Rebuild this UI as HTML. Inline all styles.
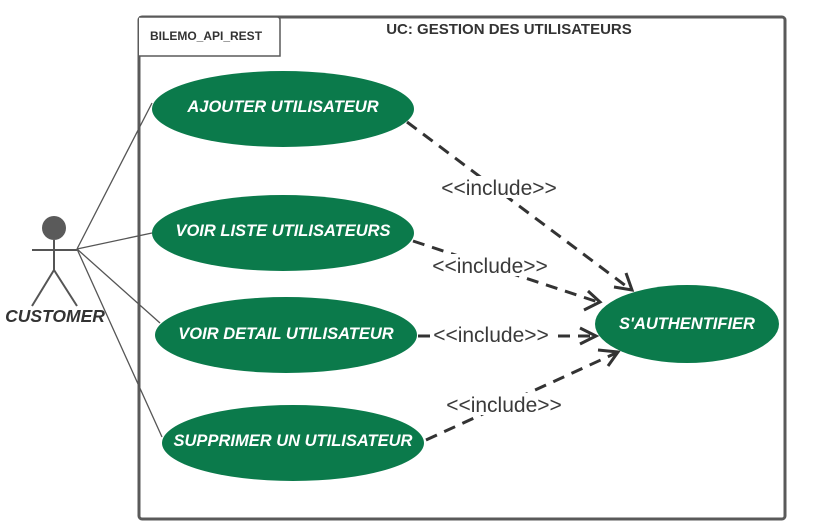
<!DOCTYPE html>
<html><head><style>body{margin:0;background:#fff}svg{display:block}</style></head><body>
<svg width="831" height="524" viewBox="0 0 831 524" xmlns="http://www.w3.org/2000/svg" font-family="Liberation Sans, sans-serif">
<rect x="139" y="17" width="646" height="502" rx="3" fill="#fff" stroke="#5a5a5a" stroke-width="3"/>
<path d="M139 56 H280 V20 Q280 17 277 17 H139" fill="#fff" stroke="#5a5a5a" stroke-width="1.5"/>
<text x="150" y="40" font-size="12" font-weight="bold" fill="#333">BILEMO_API_REST</text>
<text x="509" y="34" font-size="15" font-weight="bold" fill="#333" text-anchor="middle">UC:  GESTION DES UTILISATEURS</text>
<g stroke="#555" stroke-width="1.3" fill="none">
<line x1="77" y1="249" x2="152" y2="103"/><line x1="77" y1="249" x2="152" y2="233"/>
<line x1="77" y1="249" x2="160" y2="323"/><line x1="77" y1="249" x2="162" y2="437"/>
</g>
<g stroke="#555" stroke-width="2" fill="none">
<line x1="54" y1="240" x2="54" y2="270"/><line x1="32" y1="250" x2="77" y2="250"/>
<line x1="54" y1="270" x2="32" y2="306"/><line x1="54" y1="270" x2="77" y2="306"/>
</g>
<circle cx="54" cy="228" r="12" fill="#5a5a5a"/>
<text x="55" y="322" font-size="17.5" font-weight="bold" font-style="italic" fill="#333" text-anchor="middle">CUSTOMER</text>
<g stroke="#333" stroke-width="3" stroke-dasharray="12,8" fill="none">
<line x1="407" y1="122" x2="630" y2="289"/>
<line x1="413" y1="241" x2="598" y2="302"/>
<line x1="418" y1="336" x2="594" y2="336"/>
<line x1="426" y1="440" x2="616" y2="353"/>
</g>
<g stroke="#333" stroke-width="3" fill="none">
<polyline points="614,287 632,290 626,273"/>
<polyline points="584,310 600,302 588,291"/>
<polyline points="580,328 596,336 580,344"/>
<polyline points="598,350 618,352 608,366"/>
</g>
<g font-size="21" fill="#3a3a3a" text-anchor="middle">
<rect x="438" y="176" width="122" height="22" fill="#fff"/><text x="499" y="195">&lt;&lt;include&gt;&gt;</text>
<rect x="429" y="254" width="122" height="22" fill="#fff"/><text x="490" y="273">&lt;&lt;include&gt;&gt;</text>
<rect x="430" y="323" width="122" height="22" fill="#fff"/><text x="491" y="342">&lt;&lt;include&gt;&gt;</text>
<rect x="443" y="393" width="122" height="22" fill="#fff"/><text x="504" y="412">&lt;&lt;include&gt;&gt;</text>
</g>
<g fill="#0b7a4b">
<ellipse cx="283" cy="109" rx="131" ry="38"/>
<ellipse cx="283" cy="233" rx="131" ry="38"/>
<ellipse cx="286" cy="335" rx="131" ry="38"/>
<ellipse cx="293" cy="443" rx="131" ry="38"/>
<ellipse cx="687" cy="324" rx="92" ry="39"/>
</g>
<g font-size="16.5" font-weight="bold" font-style="italic" fill="#fff" text-anchor="middle">
<text x="283" y="112">AJOUTER UTILISATEUR</text>
<text x="283" y="236">VOIR LISTE UTILISATEURS</text>
<text x="286" y="339">VOIR DETAIL UTILISATEUR</text>
<text x="293" y="446">SUPPRIMER UN UTILISATEUR</text>
<text x="687" y="329">S'AUTHENTIFIER</text>
</g>
</svg>
</body></html>
